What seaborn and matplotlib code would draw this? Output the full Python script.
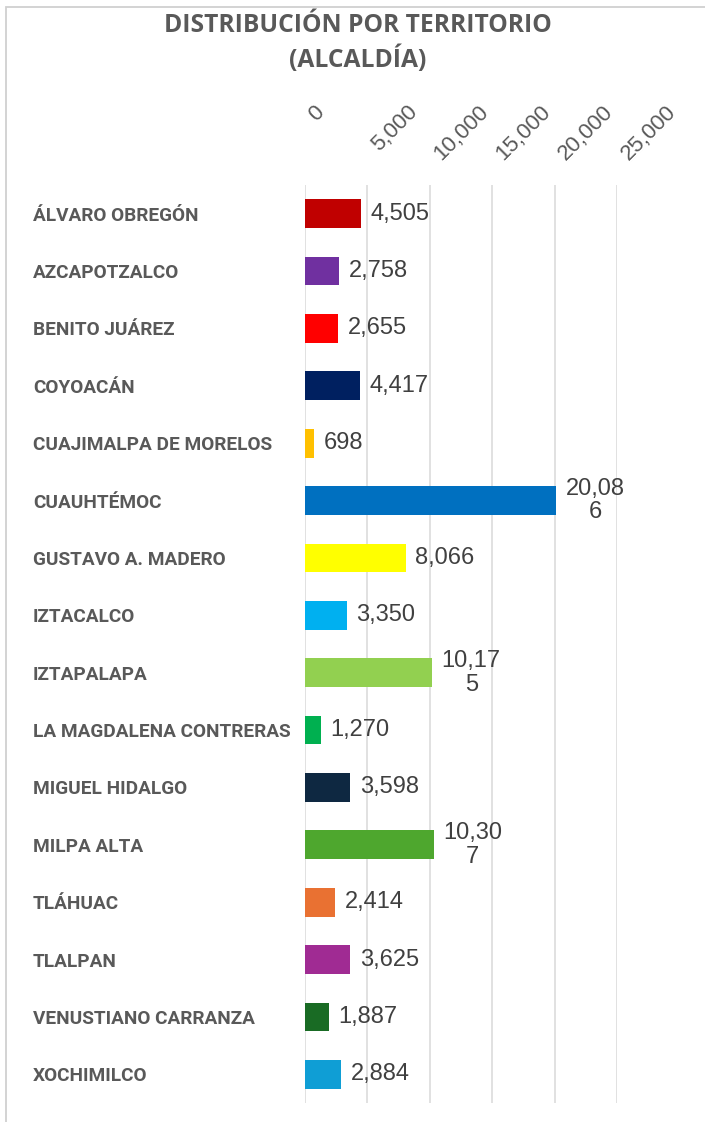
import seaborn as sns
import matplotlib.pyplot as plt
from matplotlib.patches import Rectangle

sns.set_theme(style="white")

# Datos por alcaldía
alcaldias = [
    "ÁLVARO OBREGÓN", "AZCAPOTZALCO", "BENITO JUÁREZ", "COYOACÁN",
    "CUAJIMALPA DE MORELOS", "CUAUHTÉMOC", "GUSTAVO A. MADERO", "IZTACALCO",
    "IZTAPALAPA", "LA MAGDALENA CONTRERAS", "MIGUEL HIDALGO", "MILPA ALTA",
    "TLÁHUAC", "TLALPAN", "VENUSTIANO CARRANZA", "XOCHIMILCO",
]
valores = [4505, 2758, 2655, 4417, 698, 20086, 8066, 3350,
           10175, 1270, 3598, 10307, 2414, 3625, 1887, 2884]
colores = [
    "#C00000", "#7030A0", "#FF0000", "#002060", "#FFC000", "#0070C0",
    "#FFFF00", "#00B0F0", "#92D050", "#00B050", "#0E2841", "#4EA72E",
    "#E97132", "#A02B93", "#196B24", "#0F9ED5",
]
xticks = [0, 5000, 10000, 15000, 20000, 25000]

gris = "#595959"

fig = plt.figure(figsize=(7.05, 11.22), dpi=100)
ax = fig.add_axes([305 / 705, 1 - 1103 / 1122, 312 / 705, 918 / 1122])

sns.barplot(x=valores, y=alcaldias, hue=alcaldias, palette=colores,
            orient="h", width=0.5, legend=False, ax=ax, linewidth=0,
            saturation=1)

ax.set_xlim(0, 25000)
ax.set_ylim(15.5, -0.5)
ax.xaxis.tick_top()
ax.set_xticks(xticks, labels=[f"{t:,}" for t in xticks], rotation=45,
              ha="left", va="top", rotation_mode="default",
              family="Liberation Sans", fontsize=16, color=gris)
ax.tick_params(axis="x", length=0, pad=60)
ax.set_yticks(range(len(alcaldias)), labels=alcaldias, ha="left",
              family="Roboto", fontweight="bold", fontsize=13.7, color=gris)
ax.tick_params(axis="y", length=0, pad=196)
ax.grid(axis="x", color="#D9D9D9", linewidth=1.1)
ax.set_axisbelow(True)
sns.despine(ax=ax, left=True, bottom=True, right=True, top=True)
ax.set_xlabel("")
ax.set_ylabel("")

# etiquetas de valor (las largas se parten como en Excel)
for i, v in enumerate(valores):
    s = f"{v:,}"
    if len(s) > 5:
        s = s[:5] + "\n" + s[5:]
    ax.annotate(s, xy=(v, i), xytext=(7, 0), textcoords="offset points",
                ha="left", va="center", fontsize=17, family="Liberation Sans",
                color="#404040", multialignment="center", linespacing=1.1)

fig.text(0.507, 0.988, "DISTRIBUCIÓN POR TERRITORIO\n(ALCALDÍA)",
         ha="center", va="top", family="Open Sans", fontweight="bold",
         fontsize=17.7, color=gris, linespacing=1.35)

# marco del gráfico
fig.patches.append(Rectangle((6 / 705, -0.1), 1.2, 1 - 7 / 1122 + 0.1,
                             transform=fig.transFigure, fill=False,
                             edgecolor="#D0D0D0", linewidth=1.3))

plt.savefig("out.png", dpi=100)
